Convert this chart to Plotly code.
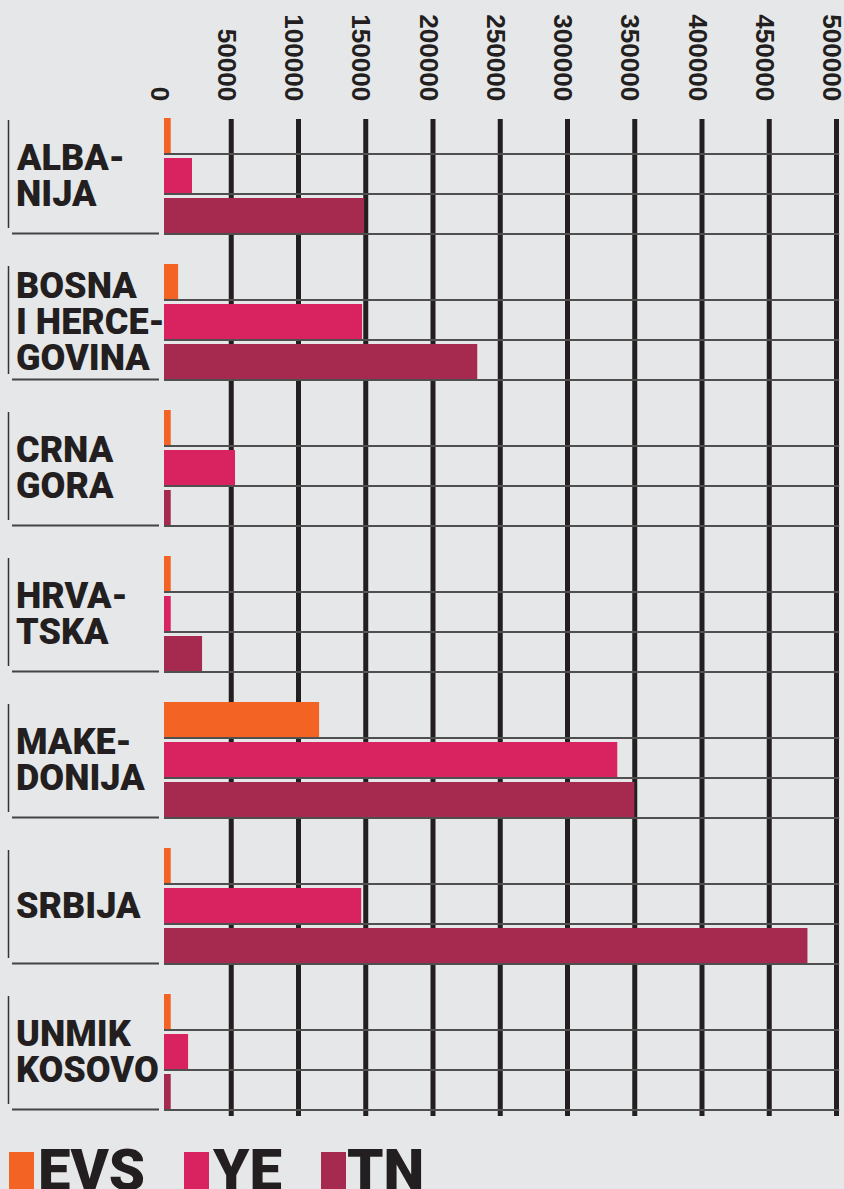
import plotly.graph_objects as go

categories = ["ALBANIJA", "BOSNA I HERCEGOVINA", "CRNA GORA", "HRVATSKA",
              "MAKEDONIJA", "SRBIJA", "UNMIK KOSOVO"]
label_lines = [["ALBA-", "NIJA"], ["BOSNA", "I HERCE-", "GOVINA"], ["CRNA", "GORA"],
               ["HRVA-", "TSKA"], ["MAKE-", "DONIJA"], ["SRBIJA"], ["UNMIK", "KOSOVO"]]
series_names = ["EVS", "YE", "TN"]
evs = [5000, 10500, 5000, 5000, 115300, 5000, 5000]
ye = [20800, 147300, 52800, 5000, 337000, 146600, 17900]
tn = [148800, 232900, 5000, 28300, 349700, 478400, 5000]
tick_vals = [0, 50000, 100000, 150000, 200000, 250000, 300000, 350000, 400000, 450000, 500000]
tick_text = [str(v) for v in tick_vals]

colors = ["#f36323", "#d82360", "#a62a50"]
BG = "#e6e7e9"
INK = "#231f20"
HEAVY = "Roboto, Liberation Sans, Arial"

W, H = 844, 1189
L, R = 164, 842
T, B = 118, 1115
PITCH = 146.0
XMAX = 500000 * (R - L) / (836.5 - L)


def xp(px):
    return (px - L) / (R - L)


def yp(py):
    return (B - py) / (B - T)


y_top = -(175.5 - T) / PITCH
y_bot = (B - 175.5) / PITCH

fig = go.Figure()
bar_w = 35 / PITCH
offsets = [(-57.5 + 40 * j) / PITCH for j in range(3)]
for j, (name, vals) in enumerate(zip(series_names, [evs, ye, tn])):
    fig.add_trace(go.Bar(
        y=list(range(len(categories))), x=vals, orientation="h", name=name,
        marker=dict(color=colors[j], line=dict(width=0)),
        width=bar_w, offset=offsets[j], showlegend=False,
        hovertext=categories, hoverinfo="x+text+name",
    ))

shapes = []
# horizontal separators at bar bottoms
for i in range(len(categories)):
    for j in range(3):
        yy = i + offsets[j] + bar_w + 1.0 / PITCH
        shapes.append(dict(type="line", xref="x", yref="y", x0=0, x1=500000 * 1.004,
                           y0=yy, y1=yy, line=dict(color="#4f4f4f", width=2), layer="below"))
# vertical gridlines
for v in tick_vals[1:]:
    shapes.append(dict(type="line", xref="x", yref="paper", x0=v, x1=v, y0=yp(1116), y1=yp(119),
                       line=dict(color=INK, width=5), layer="below"))
# label brackets
for i in range(len(categories)):
    gtop = 175.5 + i * PITCH - 57.5
    gbot = gtop + 115
    shapes.append(dict(type="line", xref="paper", yref="paper", x0=xp(8.5), x1=xp(8.5),
                       y0=yp(gtop + 2), y1=yp(gbot - 5), line=dict(color="#333333", width=1.5)))
    shapes.append(dict(type="line", xref="paper", yref="paper", x0=xp(12), x1=xp(159),
                       y0=yp(gbot + 0.5), y1=yp(gbot + 0.5), line=dict(color="#444444", width=2)))

annotations = []
for i, lines in enumerate(label_lines):
    n = len(lines)
    for k, t in enumerate(lines):
        annotations.append(dict(
            text=t, xref="paper", yref="y", x=xp(14), y=i, xanchor="left", yanchor="middle",
            yshift=-(k - (n - 1) / 2) * 36, showarrow=False,
            font=dict(family=HEAVY, size=36, color=INK, weight=900),
        ))

# legend
leg_sw = [(9, 34), (184, 209), (321, 346)]
leg_tx = [39, 213, 348]
for j, name in enumerate(series_names):
    shapes.append(dict(type="rect", xref="paper", yref="paper",
                       x0=xp(leg_sw[j][0]), x1=xp(leg_sw[j][1]), y0=yp(1200), y1=yp(1152),
                       fillcolor=colors[j], line=dict(width=0)))
    annotations.append(dict(
        text=name, xref="paper", yref="paper", x=xp(leg_tx[j] - 3), y=yp(1134),
        xanchor="left", yanchor="top", showarrow=False,
        font=dict(family=HEAVY, size=58, color=INK, weight=900),
    ))

fig.update_layout(
    width=W, height=H,
    margin=dict(l=L, r=W - R, t=T, b=H - B, pad=0, autoexpand=False),
    paper_bgcolor=BG, plot_bgcolor=BG,
    barmode="overlay",
    shapes=shapes, annotations=annotations,
    showlegend=False,
    xaxis=dict(range=[0, XMAX], side="top", tickvals=tick_vals, ticktext=tick_text,
               tickangle=90, showgrid=False, zeroline=False, showline=False, ticks="",
               ticklabelstandoff=12, ticklabelshift=-5, ticklabeloverflow="allow",
               automargin=False,
               tickfont=dict(family="Liberation Sans, Arial", size=26, color=INK, weight="bold")),
    yaxis=dict(range=[y_bot, y_top], showgrid=False, zeroline=False, showline=False,
               showticklabels=False, ticks="", automargin=False),
)

fig.write_html("out.html", config={"displayModeBar": False},
               post_script="document.body.style.margin='0';document.body.style.overflow='hidden';"
                           "document.body.style.background='" + BG + "';")
